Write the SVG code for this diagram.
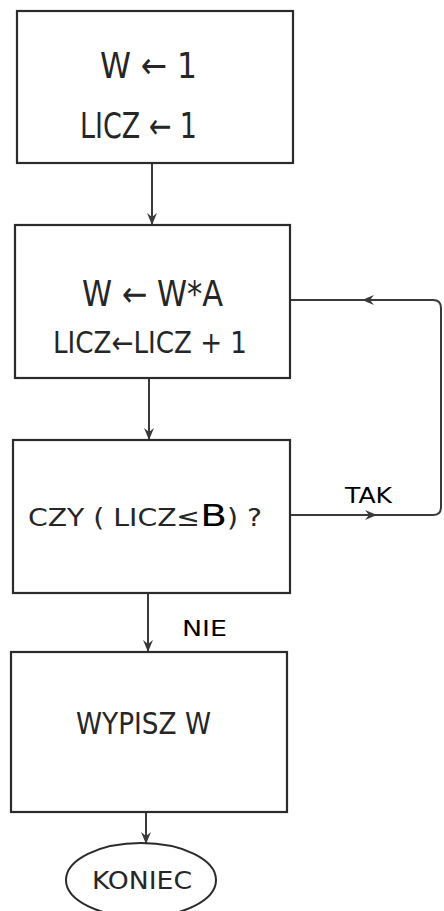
<svg xmlns="http://www.w3.org/2000/svg" width="444" height="911" viewBox="0 0 444 911">
<style>
.box{fill:#fff;stroke:#2b2b2b;stroke-width:2.2}
.con{fill:none;stroke:#3a3a3a;stroke-width:2}
.hw{font-family:"DejaVu Sans Condensed","DejaVu Sans",sans-serif;fill:#262626}
.lbl{font-family:"DejaVu Sans","Liberation Sans",sans-serif;fill:#000}
</style>
<defs>
<marker id="arr" viewBox="0 0 12 12" refX="11" refY="6" markerWidth="12" markerHeight="12" markerUnits="userSpaceOnUse" orient="auto">
<path d="M0,1 L12,6 L0,11 L4,6 Z" fill="#3a3a3a"/>
</marker>
</defs>
<g id="connectors">
<line class="con" x1="152" y1="163" x2="152" y2="224" marker-end="url(#arr)"/>
<line class="con" x1="149" y1="378" x2="149" y2="439" marker-end="url(#arr)"/>
<line class="con" x1="148" y1="593" x2="148" y2="651" marker-end="url(#arr)"/>
<line class="con" x1="146" y1="812" x2="146" y2="843" marker-end="url(#arr)"/>
<path class="con" d="M290,515 H433 Q441,515 441,507 V308 Q441,300 433,300 H290" stroke="#555"/>
<line class="con" x1="340" y1="515" x2="376" y2="515" marker-end="url(#arr)" stroke="#555"/>
<line class="con" x1="400" y1="300" x2="363" y2="300" marker-end="url(#arr)" stroke="#555"/>
<text class="lbl" x="345" y="503" font-size="22" textLength="47" lengthAdjust="spacingAndGlyphs">TAK</text>
<text class="lbl" x="182" y="636" font-size="22" textLength="45" lengthAdjust="spacingAndGlyphs">NIE</text>
</g>
<g id="n1">
<rect class="box" x="17" y="11" width="276" height="152"/>
<text class="hw" x="100" y="78" font-size="36" textLength="97" lengthAdjust="spacingAndGlyphs">W ← 1</text>
<text class="hw" x="80" y="138" font-size="35" textLength="117" lengthAdjust="spacingAndGlyphs">LICZ ← 1</text>
</g>
<g id="n2">
<rect class="box" x="15" y="225" width="275" height="153"/>
<text class="hw" x="82" y="306" font-size="35" textLength="141" lengthAdjust="spacingAndGlyphs">W ← W*A</text>
<text class="hw" x="53" y="353" font-size="30" textLength="194" lengthAdjust="spacingAndGlyphs">LICZ←LICZ + 1</text>
</g>
<g id="n3">
<rect class="box" x="13" y="440" width="277" height="153"/>
<text class="hw" x="28" y="526" font-size="25" textLength="234" lengthAdjust="spacingAndGlyphs">CZY ( LICZ≤<tspan font-family="DejaVu Sans,sans-serif" font-size="31" fill="#000">B</tspan>) ?</text>
</g>
<g id="n4">
<rect class="box" x="11" y="652" width="276" height="160"/>
<text class="hw" x="76" y="734" font-size="31" textLength="135" lengthAdjust="spacingAndGlyphs">WYPISZ  W</text>
</g>
<g id="n5">
<ellipse cx="141" cy="880" rx="75" ry="37" fill="#fff" stroke="#2b2b2b" stroke-width="2"/>
<text class="hw" x="92" y="889" font-size="24" textLength="100" lengthAdjust="spacingAndGlyphs">KONIEC</text>
</g>
</svg>
